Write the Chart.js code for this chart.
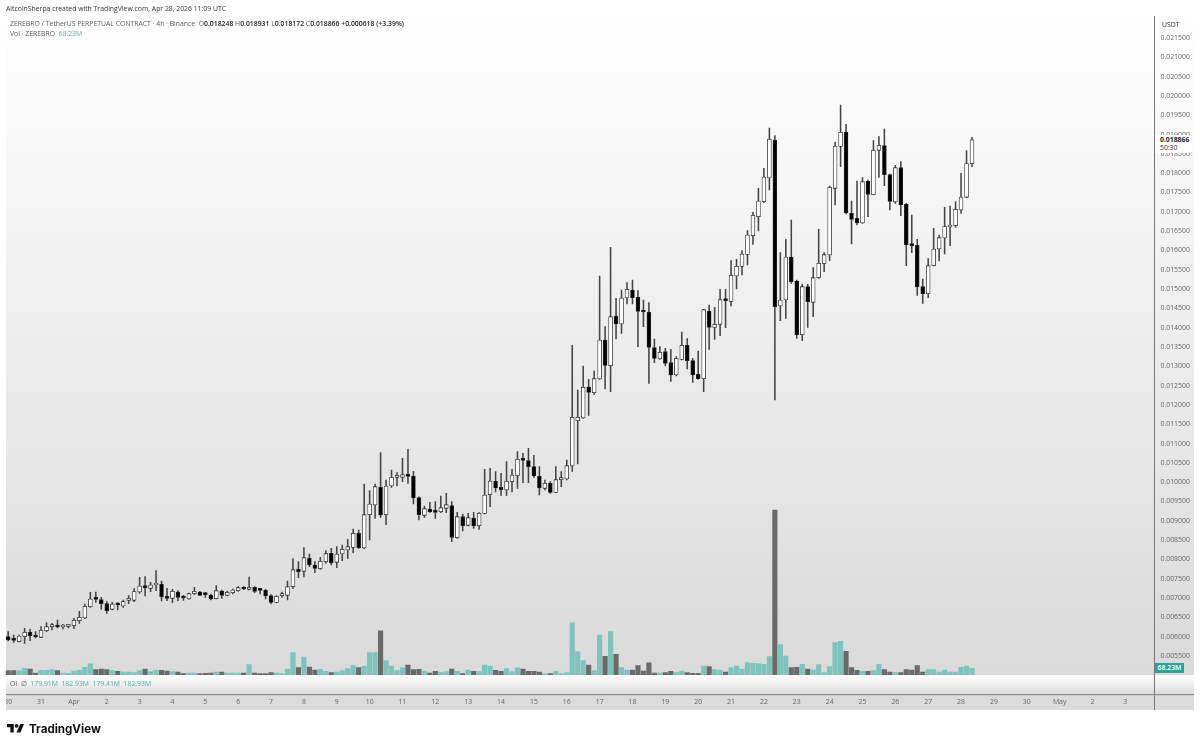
<!DOCTYPE html>
<html><head><meta charset="utf-8">
<script src="https://cdn.jsdelivr.net/npm/chart.js@4"></script>
<style>
html,body{margin:0;padding:0;background:#fff;overflow:hidden}
#wrap{position:relative;width:1200px;height:746px;font-family:"Open Sans",sans-serif;filter:blur(0.3px)}
canvas{position:absolute;left:0;top:0}
.t{position:absolute;white-space:pre;font-size:6.85px;line-height:10px;color:#5a5a5a}
.t b{font-weight:600;color:#222}
.g{color:#55b0a5}
</style></head><body>
<div id="wrap">
<canvas id="c" width="1200" height="746"></canvas>
<div class="t" style="left:6px;top:4px;color:#333">AltcoinSherpa created with TradingView.com, Apr 28, 2026 11:09 UTC</div>
<div class="t" style="left:10px;top:19px">ZEREBRO / TetherUS PERPETUAL CONTRACT · 4h · Binance  O<b>0.018248</b> H<b>0.018931</b> L<b>0.018172</b> C<b>0.018866</b> <b>+0.000618 (+3.39%)</b></div>
<div class="t" style="left:10px;top:29px">Vol · ZEREBRO  <span class="g">68.23M</span></div>
<div class="t" style="left:10px;top:679px">OI  ∅  <span class="g">179.91M  182.93M  179.41M  182.93M</span></div>
<div class="t" style="left:1162px;top:20px;color:#333">USDT</div>
<div class="t" style="left:1155px;top:135px;width:38px;height:18px;background:#fff;color:#333;padding-left:5px;box-sizing:border-box;line-height:8px;padding-top:1px"><b style="font-weight:700">0.018866</b>
50:30</div>
<div class="t" style="left:1155px;top:663px;width:29px;height:10px;background:#26a69a;color:#fff;text-align:center;font-weight:600">68.23M</div>
<svg style="position:absolute;left:7px;top:722px" width="17.3" height="13.4" viewBox="0 0 36 28"><path d="M14 22H7V11H0V4h14v18zM28 22h-8l7.5-18h8L28 22z" fill="#111"/><circle cx="20" cy="8" r="4" fill="#111"/></svg>
<div class="t" style="left:29px;top:721px;font-size:11.6px;line-height:16px;font-weight:700;color:#111;font-family:Inter,sans-serif">TradingView</div>
</div>
<script>
const dayTicks=['30','31','Apr','2','3','4','5','6','7','8','9','10','11','12','13','14','15','16','17','18','19','20','21','22','23','24','25','26','27','28','29','30','May','2','3'];
const priceTicks=[0.0055,0.006,0.0065,0.007,0.0075,0.008,0.0085,0.009,0.0095,0.01,0.0105,0.011,0.0115,0.012,0.0125,0.013,0.0135,0.014,0.0145,0.015,0.0155,0.016,0.0165,0.017,0.0175,0.018,0.0185,0.019,0.0195,0.02,0.0205,0.021,0.0215];
const opens=[0.006000,0.005931,0.005871,0.006000,0.006113,0.006035,0.005983,0.006156,0.006259,0.006277,
0.006251,0.006268,0.006285,0.006415,0.006484,0.006777,0.006984,0.006958,0.006855,0.006708,
0.006838,0.006794,0.006941,0.006941,0.007157,0.007312,0.007252,0.007338,0.007355,0.007027,
0.006993,0.007157,0.007027,0.006976,0.007114,0.007157,0.007105,0.007079,0.006984,0.007183,
0.007071,0.007140,0.007191,0.007278,0.007226,0.007278,0.007217,0.007200,0.007062,0.006889,
0.007062,0.007071,0.007295,0.007744,0.007692,0.008037,0.007856,0.007761,0.007942,0.008158,
0.007925,0.008141,0.008244,0.008313,0.008676,0.008296,0.009159,0.009409,0.009867,0.009159,
0.009901,0.010126,0.010126,0.010186,0.010160,0.009599,0.009142,0.009306,0.009237,0.009237,
0.009323,0.009392,0.008564,0.009107,0.008883,0.009073,0.008874,0.009193,0.009677,0.010022,
0.009867,0.009798,0.010013,0.010169,0.010592,0.010557,0.010402,0.010151,0.009841,0.009970,
0.009737,0.010065,0.010082,0.010419,0.011593,0.011662,0.012464,0.012317,0.012671,0.013681,
0.013016,0.014302,0.014095,0.014768,0.014975,0.014786,0.014432,0.014406,0.013483,0.013189,
0.013379,0.013094,0.012775,0.013180,0.013543,0.013146,0.012792,0.012680,0.014432,0.014009,
0.014087,0.014717,0.014682,0.015338,0.015588,0.015899,0.016383,0.016874,0.017263,0.017876,
0.018859,0.014562,0.014717,0.015830,0.015209,0.013819,0.015062,0.014657,0.015295,0.015658,
0.015882,0.017608,0.018695,0.019067,0.016961,0.016831,0.016711,0.017798,0.017444,0.018592,
0.018713,0.017962,0.017254,0.018143,0.017194,0.016150,0.016132,0.015062,0.014881,0.015606,
0.016037,0.016322,0.016607,0.016641,0.017047,0.017375,0.018248];
const highs=[0.006130,0.006044,0.006044,0.006216,0.006199,0.006130,0.006259,0.006363,0.006346,0.006432,
0.006320,0.006320,0.006475,0.006656,0.006846,0.007148,0.007157,0.007019,0.006907,0.006889,
0.006881,0.006950,0.007062,0.007243,0.007537,0.007554,0.007407,0.007709,0.007442,0.007252,
0.007226,0.007191,0.007071,0.007131,0.007278,0.007174,0.007140,0.007105,0.007321,0.007209,
0.007183,0.007235,0.007295,0.007295,0.007545,0.007295,0.007252,0.007226,0.007088,0.007062,
0.007157,0.007442,0.008020,0.007942,0.008305,0.008141,0.007942,0.008054,0.008227,0.008287,
0.008330,0.008374,0.008520,0.008788,0.008762,0.009953,0.009780,0.009953,0.010764,0.010056,
0.010315,0.010246,0.010617,0.010850,0.010281,0.009620,0.009383,0.009478,0.009496,0.009642,
0.009711,0.009496,0.009219,0.009176,0.009193,0.009219,0.009211,0.010333,0.010359,0.010272,
0.010229,0.010531,0.010333,0.010790,0.010747,0.010876,0.010695,0.010402,0.010056,0.010013,
0.010402,0.010272,0.010574,0.013543,0.012386,0.013008,0.012663,0.012878,0.015338,0.014026,
0.016080,0.014760,0.014975,0.015165,0.015234,0.014958,0.014717,0.014648,0.013707,0.013508,
0.013465,0.013439,0.013249,0.013888,0.013716,0.013206,0.013396,0.014475,0.014587,0.014527,
0.014993,0.014993,0.015735,0.015769,0.015994,0.016512,0.016987,0.017608,0.018126,0.019170,
0.018972,0.015942,0.016288,0.016788,0.015235,0.015123,0.015123,0.015554,0.016547,0.015942,
0.017668,0.018799,0.019766,0.019265,0.017280,0.017798,0.017884,0.017824,0.018842,0.018946,
0.019144,0.017979,0.018204,0.018298,0.017220,0.016918,0.016288,0.015261,0.015787,0.016572,
0.016400,0.017116,0.017151,0.017263,0.017996,0.018583,0.018931];
const lows=[0.005888,0.005854,0.005862,0.005828,0.005897,0.005966,0.005975,0.006130,0.006173,0.006225,
0.006199,0.006225,0.006208,0.006346,0.006467,0.006760,0.006889,0.006708,0.006605,0.006691,
0.006691,0.006760,0.006855,0.006907,0.007122,0.007053,0.007166,0.007191,0.006924,0.006933,
0.006881,0.006933,0.006941,0.006967,0.007088,0.007062,0.007019,0.006950,0.006976,0.006993,
0.007053,0.007105,0.007174,0.007217,0.007209,0.007140,0.007105,0.006976,0.006846,0.006881,
0.007019,0.006950,0.007243,0.007528,0.007545,0.007813,0.007657,0.007744,0.007899,0.007856,
0.007787,0.007968,0.008028,0.008175,0.008287,0.008279,0.008503,0.009064,0.009090,0.008900,
0.009867,0.009901,0.010013,0.009970,0.009435,0.009021,0.009090,0.009219,0.009064,0.009211,
0.009211,0.008460,0.008546,0.008736,0.008866,0.008805,0.008779,0.009176,0.009366,0.009746,
0.009660,0.009660,0.009746,0.009841,0.009987,0.009987,0.010126,0.009668,0.009798,0.009711,
0.009729,0.009884,0.010056,0.010281,0.010471,0.011653,0.011731,0.012274,0.012663,0.012412,
0.012343,0.013707,0.013854,0.014613,0.014613,0.013508,0.014026,0.012559,0.013094,0.013180,
0.013008,0.012611,0.012749,0.013163,0.012930,0.012585,0.012663,0.012343,0.013439,0.013698,
0.013793,0.014000,0.014561,0.015001,0.015364,0.015623,0.016158,0.016503,0.017237,0.017565,
0.012128,0.014182,0.014242,0.015148,0.013725,0.013664,0.014009,0.014285,0.015278,0.015451,
0.015735,0.017177,0.018169,0.016944,0.016167,0.016659,0.016702,0.016874,0.017436,0.017893,
0.017677,0.017047,0.017220,0.016900,0.015606,0.015942,0.014838,0.014631,0.014777,0.015597,
0.015727,0.015908,0.016124,0.016598,0.016961,0.017366,0.018172];
const closes=[0.005914,0.005906,0.006018,0.006113,0.006018,0.005992,0.006164,0.006259,0.006277,0.006251,
0.006294,0.006285,0.006423,0.006501,0.006786,0.006976,0.006967,0.006855,0.006674,0.006846,
0.006820,0.006907,0.006958,0.007166,0.007312,0.007269,0.007338,0.007364,0.007036,0.006993,
0.007174,0.007019,0.007002,0.007114,0.007174,0.007071,0.007088,0.006976,0.007191,0.007071,
0.007148,0.007209,0.007269,0.007235,0.007278,0.007174,0.007200,0.007053,0.006889,0.007045,
0.007079,0.007295,0.007735,0.007683,0.008046,0.007856,0.007770,0.007951,0.008149,0.007908,
0.008141,0.008261,0.008330,0.008676,0.008296,0.009159,0.009435,0.009884,0.009150,0.009901,
0.010126,0.010143,0.010195,0.010151,0.009590,0.009159,0.009314,0.009228,0.009219,0.009340,
0.009418,0.008572,0.009107,0.008874,0.009081,0.008866,0.009193,0.009668,0.010031,0.009849,
0.009806,0.010022,0.010186,0.010592,0.010566,0.010402,0.010160,0.009849,0.009970,0.009737,
0.010065,0.010091,0.010428,0.011679,0.011679,0.012456,0.012326,0.012680,0.013681,0.013025,
0.014285,0.014095,0.014768,0.014993,0.014777,0.014423,0.014406,0.013491,0.013206,0.013362,
0.013077,0.012775,0.013206,0.013543,0.013146,0.012775,0.012680,0.014466,0.014009,0.014087,
0.014725,0.014699,0.015355,0.015588,0.015908,0.016400,0.016909,0.017280,0.017901,0.018877,
0.014544,0.014717,0.015830,0.015192,0.013819,0.015062,0.014674,0.015295,0.015666,0.015891,
0.017634,0.018704,0.019058,0.016969,0.016805,0.016711,0.017781,0.017453,0.018592,0.018721,
0.017962,0.017271,0.018143,0.017185,0.016141,0.016124,0.015054,0.014881,0.015606,0.016037,
0.016331,0.016616,0.016659,0.017064,0.017384,0.018248,0.018866];
const volumes=[44,44,44,68,61,20,48,48,55,44,20,17,41,48,78,113,55,61,55,44,
38,31,31,24,44,61,34,51,48,41,34,31,14,20,20,14,17,20,31,31,
20,20,20,20,106,20,14,14,24,20,14,61,228,75,184,82,51,58,38,24,
31,44,65,95,75,89,228,228,450,147,92,44,72,102,55,58,41,20,38,27,
34,61,38,14,51,38,34,102,92,48,38,65,34,72,61,38,38,31,14,14,
38,14,24,532,235,147,102,44,406,191,443,211,75,51,51,95,41,123,20,20,
24,38,24,41,24,17,17,92,85,55,51,31,75,92,61,126,119,116,109,188,
1681,310,194,75,78,109,61,51,106,24,85,331,344,242,75,48,38,38,44,109,
55,31,24,24,55,51,95,31,55,55,31,51,31,31,78,92,68.23];

const categories=[];
dayTicks.forEach((d,i)=>{for(let h=0;h<24;h+=4)categories.push(h===0?d:d+' '+h+':00');});
const up=closes.map((c,i)=>c>=opens[i]);
const wickBars=lows.map((l,i)=>[l,highs[i]]);
const bodyBars=opens.map((o,i)=>[o,closes[i]]);

const frame={id:'frame',
 beforeDraw(ch){const c=ch.ctx;
  c.save();c.fillStyle='#fff';c.fillRect(0,0,1200,746);
  let g=c.createLinearGradient(0,16,0,675);g.addColorStop(0,'#ffffff');g.addColorStop(1,'#dadada');
  c.fillStyle=g;c.fillRect(6,16,1188,659);
  g=c.createLinearGradient(0,675,0,694);g.addColorStop(0,'#ffffff');g.addColorStop(1,'#dcdcdc');
  c.fillStyle=g;c.fillRect(6,675,1188,19);
  c.fillStyle='#dbdbdb';c.fillRect(6,694,1188,16);
  c.fillStyle='#8e8e8e';c.fillRect(6,694,1188,1.2);
  c.fillStyle='#777';c.fillRect(1154,16,1,694);
  c.restore();},
 afterDraw(ch){const c=ch.ctx;c.save();c.fillStyle='#fff';c.fillRect(0,690,6,22);c.restore();}
};

new Chart(document.getElementById('c'),{
 type:'bar',
 plugins:[frame],
 data:{labels:categories,datasets:[
  {label:'Body',data:bodyBars,yAxisID:'y',grouped:false,order:1,barThickness:3.9,minBarLength:2,
   backgroundColor:up.map(u=>u?'#ffffff':'#000000'),borderColor:'#2a2a2a',borderWidth:0.8,borderSkipped:false},
  {label:'Wick',data:wickBars,yAxisID:'y',grouped:false,order:2,barThickness:0.9,
   backgroundColor:'#444',borderWidth:0},
  {label:'Vol',data:volumes,yAxisID:'y2',grouped:false,order:3,barThickness:4.5,
   backgroundColor:up.map(u=>u?'#7cc4bc':'#6a6a6a'),borderWidth:0}
 ]},
 options:{responsive:false,animation:false,devicePixelRatio:1,
  layout:{padding:{left:5.46,right:6,top:16,bottom:36}},
  plugins:{legend:{display:false},tooltip:{enabled:false}},
  scales:{
   x:{type:'category',offset:true,grid:{display:false,drawTicks:true,tickLength:20},border:{display:false},
      afterFit(s){s.height=35;},
      ticks:{autoSkip:false,maxRotation:0,minRotation:0,padding:2.5,color:'#666',font:{family:'"Open Sans",sans-serif',size:6.9},
       callback(v){return v%6===0?dayTicks[v/6]:null;}}},
   y:{position:'right',min:0.005008,max:0.02207,grid:{display:false,drawTicks:false},border:{display:false},
      afterFit(s){s.width=38.54;},
      afterBuildTicks(s){s.ticks=priceTicks.map(v=>({value:v}));},
      ticks:{padding:5,color:'#666',font:{family:'"Open Sans",sans-serif',size:6.9},callback(v){return v.toFixed(6);}}},
   y2:{display:false,min:0,max:6720}
  }}
});
</script>
</body></html>
